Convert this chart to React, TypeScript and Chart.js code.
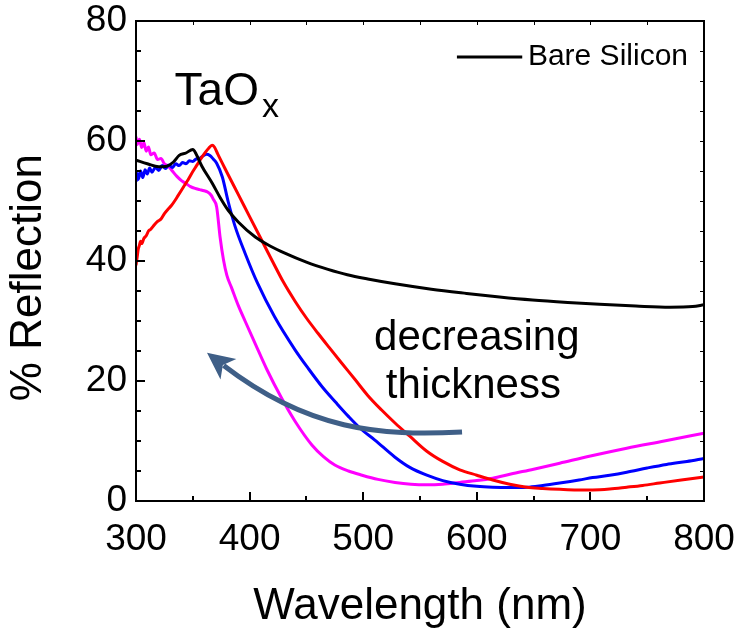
import React, { useEffect, useRef } from "react";
import { Chart, registerables } from "chart.js";

Chart.register(...registerables);

const FONT = '"Liberation Sans", Arial, Helvetica, sans-serif';

// Axis ranges / ticks
const xMin = 300;
const xMax = 800;
const yMin = 0;
const yMax = 80;
const xStep = 100;
const yStep = 20;

// Bare Silicon (black)
const bareWl = [300, 310, 320, 327, 333, 338, 344, 350, 353, 358, 367, 374, 381, 390, 405, 418, 431, 450, 469, 486, 504, 528, 560, 591, 620, 649, 680, 708, 740, 770, 790, 800];
const bareR = [56.8, 56.2, 55.7, 55.8, 56.5, 57.6, 58.0, 58.6, 57.8, 55.8, 53.0, 50.6, 48.5, 46.5, 44.0, 42.5, 41.3, 39.8, 38.6, 37.7, 37.0, 36.2, 35.3, 34.6, 34.0, 33.5, 33.1, 32.8, 32.5, 32.3, 32.4, 32.7];

// Thickest film (red)
const redWl = [300, 301, 302, 303, 304, 305, 307, 309, 311, 313, 316, 319, 322, 325, 328, 331, 334, 337, 340, 343, 346, 349, 352, 355, 358, 361, 364, 367, 369, 372, 380, 390, 400, 410, 420, 430, 440, 450, 460, 470, 481, 493, 504, 516, 528, 541, 556, 570, 585, 600, 614, 629, 644, 658, 673, 688, 702, 717, 732, 746, 761, 780, 800];
const redR = [39.3, 40.6, 42.0, 42.6, 43.3, 42.9, 43.8, 44.2, 45.0, 45.3, 46.0, 46.6, 47.0, 47.9, 48.6, 49.2, 50.0, 50.9, 51.8, 52.7, 53.6, 54.6, 55.5, 56.4, 57.3, 58.1, 58.8, 59.3, 59.0, 57.8, 54.8, 51.1, 47.4, 43.7, 40.0, 36.4, 33.3, 30.5, 28.0, 25.6, 23.0, 20.2, 17.6, 15.2, 13.0, 10.8, 8.3, 6.6, 5.2, 4.3, 3.5, 2.8, 2.3, 2.1, 1.95, 1.85, 1.85, 2.0, 2.3, 2.6, 3.0, 3.5, 4.0];

// Intermediate film (blue)
const blueWl = [300, 301, 302, 304, 306, 308, 310, 312, 314, 317, 320, 323, 326, 329, 332, 335, 338, 341, 344, 347, 350, 353, 356, 359, 362, 365, 368, 371, 376, 381, 387, 396, 407, 422, 440, 452, 464, 476, 487, 498, 510, 528, 541, 556, 570, 585, 600, 614, 630, 644, 658, 673, 690, 702, 717, 732, 750, 767, 785, 800];
const blueR = [53.2, 54.6, 53.6, 55.0, 53.9, 55.2, 54.5, 55.5, 54.8, 55.6, 55.1, 55.9, 55.4, 56.0, 55.6, 56.2, 55.9, 56.4, 56.2, 56.7, 56.6, 57.0, 57.1, 57.5, 57.8, 57.6, 57.0, 56.3, 54.0, 50.0, 45.9, 41.3, 36.3, 30.7, 25.2, 22.0, 19.0, 16.4, 14.1, 12.0, 10.2, 7.3, 5.6, 4.3, 3.4, 2.8, 2.45, 2.3, 2.25, 2.3, 2.6, 3.0, 3.5, 3.9, 4.3, 4.8, 5.5, 6.1, 6.6, 7.1];

// Thinnest film (magenta)
const magWl = [300, 301, 303, 305, 307, 309, 311, 313, 316, 319, 322, 325, 328, 332, 336, 340, 344, 348, 352, 356, 360, 363, 366, 368, 371, 374, 377, 380, 384, 390, 396, 405, 415, 428, 440, 455, 465, 475, 487, 499, 513, 528, 542, 556, 570, 585, 600, 614, 630, 650, 673, 700, 732, 765, 800];
const magR = [60.7, 59.4, 60.3, 58.9, 59.7, 58.3, 59.0, 57.7, 58.0, 56.9, 57.1, 56.2, 55.9, 55.0, 54.1, 53.4, 52.9, 52.4, 52.1, 51.9, 51.7, 51.5, 51.0, 50.3, 49.0, 44.0, 40.2, 37.6, 35.6, 32.6, 30.0, 26.2, 22.0, 17.2, 13.3, 9.3, 7.4, 6.0, 5.0, 4.3, 3.6, 3.1, 2.8, 2.7, 2.8, 3.1, 3.4, 3.8, 4.5, 5.3, 6.3, 7.5, 8.8, 10.0, 11.3];

const seriesLabels = ["Bare Silicon", "TaOx thick", "TaOx medium", "TaOx thin"];
const seriesColors = ["#000000", "#ff0000", "#0000ff", "#ff00ff"];

const legendLabel = "Bare Silicon";
const xTitle = "Wavelength (nm)";
const yTitle = "% Reflection";
const materialMain = "TaO";
const materialSub = "x";
const noteLines = ["decreasing", "thickness"];

const pts = (wl: number[], r: number[]) => wl.map((w, i) => ({ x: w, y: r[i] }));

const decorPlugin = {
  id: "decor",
  afterDatasetsDraw(chart: any) {
    const { ctx, chartArea: a, scales } = chart;
    const xs = scales.x;
    const ys = scales.y;
    const X = (v: number) => xs.getPixelForValue(v);
    const Y = (v: number) => ys.getPixelForValue(v);
    ctx.save();

    // frame
    ctx.strokeStyle = "#000";
    ctx.lineWidth = 2;
    ctx.strokeRect(a.left, a.top, a.right - a.left, a.bottom - a.top);

    // inward ticks bottom / left
    ctx.beginPath();
    for (let v = xMin; v <= xMax; v += 50) {
      const px = Math.round(X(v));
      const major = v % 100 === 0;
      ctx.moveTo(px, a.bottom);
      ctx.lineTo(px, a.bottom - (major ? 9 : 5));
    }
    for (let v = yMin; v <= yMax; v += 5) {
      const py = Math.round(Y(v));
      const major = v % 20 === 0;
      ctx.moveTo(a.left, py);
      ctx.lineTo(a.left + (major ? 9 : 5), py);
    }
    ctx.stroke();
    // small ticks top / right
    ctx.lineWidth = 1;
    ctx.beginPath();
    for (let v = xMin; v <= xMax; v += 50) {
      const px = Math.round(X(v)) + 0.5;
      ctx.moveTo(px, a.top);
      ctx.lineTo(px, a.top + 4);
    }
    for (let v = yMin; v <= yMax; v += 5) {
      const py = Math.round(Y(v)) + 0.5;
      ctx.moveTo(a.right, py);
      ctx.lineTo(a.right - 4, py);
    }
    ctx.stroke();

    // legend
    ctx.strokeStyle = "#000";
    ctx.lineWidth = 3;
    ctx.beginPath();
    ctx.moveTo(X(582.5), Y(74));
    ctx.lineTo(X(640), Y(74));
    ctx.stroke();
    ctx.fillStyle = "#000";
    ctx.font = `30px ${FONT}`;
    ctx.textAlign = "left";
    ctx.textBaseline = "middle";
    ctx.fillText(legendLabel, X(645), Y(74));

    // material label
    ctx.textBaseline = "alphabetic";
    ctx.font = `46px ${FONT}`;
    const mx = X(334);
    ctx.fillText(materialMain, mx, Y(66));
    const mw = ctx.measureText(materialMain).width;
    ctx.font = `34px ${FONT}`;
    ctx.fillText(materialSub, mx + mw + 3, Y(64));

    // note
    ctx.font = `42px ${FONT}`;
    ctx.textAlign = "center";
    ctx.fillText(noteLines[0], X(600), Y(25.2));
    ctx.fillText(noteLines[1], X(597), Y(17.2));

    // arrow (cubic curve + notched head)
    const col = "#3f5f87";
    const p0 = [X(587), Y(11.5)];
    const c1 = [X(514.8), Y(10.8)];
    const c2 = [X(444.4), Y(12.8)];
    const tip = [X(362.5), Y(24.7)];
    let dx = tip[0] - c2[0];
    let dy = tip[1] - c2[1];
    const len = Math.hypot(dx, dy);
    dx /= len;
    dy /= len;
    const headLen = 27;
    const halfW = 13;
    const base = [tip[0] - dx * headLen, tip[1] - dy * headLen];
    const shaftEnd = [tip[0] - dx * (headLen - 6), tip[1] - dy * (headLen - 6)];
    const c2s = [c2[0] + (shaftEnd[0] - tip[0]) * 0.5, c2[1] + (shaftEnd[1] - tip[1]) * 0.5];
    ctx.strokeStyle = col;
    ctx.lineWidth = 5;
    ctx.lineCap = "butt";
    ctx.beginPath();
    ctx.moveTo(p0[0], p0[1]);
    ctx.bezierCurveTo(c1[0], c1[1], c2s[0], c2s[1], shaftEnd[0], shaftEnd[1]);
    ctx.stroke();
    const nx = -dy;
    const ny = dx;
    ctx.fillStyle = col;
    ctx.beginPath();
    ctx.moveTo(tip[0], tip[1]);
    ctx.lineTo(base[0] + nx * halfW, base[1] + ny * halfW);
    ctx.lineTo(tip[0] - dx * (headLen - 7), tip[1] - dy * (headLen - 7));
    ctx.lineTo(base[0] - nx * halfW, base[1] - ny * halfW);
    ctx.closePath();
    ctx.fill();

    ctx.restore();
  },
};

const zeroPad = (s: any) => {
  s.paddingTop = 0;
  s.paddingBottom = 0;
  s.paddingLeft = 0;
  s.paddingRight = 0;
};

export default function App() {
  const ref = useRef<HTMLCanvasElement | null>(null);

  useEffect(() => {
    if (!ref.current) return;
    const allWl = [bareWl, redWl, blueWl, magWl];
    const allR = [bareR, redR, blueR, magR];
    const chart = new Chart(ref.current, {
      type: "line",
      data: {
        datasets: seriesLabels.map((label, i) => ({
          label,
          data: pts(allWl[i], allR[i]),
          borderColor: seriesColors[i],
          backgroundColor: seriesColors[i],
          borderWidth: 3,
          pointRadius: 0,
          fill: false,
          cubicInterpolationMode: "monotone" as const,
        })),
      },
      options: {
        animation: false,
        responsive: false,
        maintainAspectRatio: false,
        layout: { padding: { top: 21, right: 37, left: 0, bottom: 0 } },
        plugins: {
          legend: { display: false },
          tooltip: { enabled: false },
        },
        scales: {
          x: {
            type: "linear",
            min: xMin,
            max: xMax,
            grid: { display: false, drawTicks: false },
            border: { display: false },
            ticks: {
              stepSize: xStep,
              color: "#000",
              padding: 20,
              font: { family: FONT, size: 37, lineHeight: 1 },
              maxRotation: 0,
            },
            title: {
              display: true,
              text: xTitle,
              color: "#000",
              font: { family: FONT, size: 44, lineHeight: 1 },
              padding: { top: 6, bottom: 6 },
            },
            afterFit: (s: any) => {
              s.height = 134;
              zeroPad(s);
            },
          },
          y: {
            type: "linear",
            min: yMin,
            max: yMax,
            grid: { display: false, drawTicks: false },
            border: { display: false },
            ticks: {
              stepSize: yStep,
              color: "#000",
              padding: 9,
              font: { family: FONT, size: 37, lineHeight: 1 },
            },
            title: {
              display: true,
              text: yTitle + "  \u2009",
              color: "#000",
              font: { family: FONT, size: 44, lineHeight: 1 },
              padding: { top: 7, bottom: 7 },
            },
            afterFit: (s: any) => {
              s.width = 136;
              zeroPad(s);
            },
          },
        },
      },
      plugins: [decorPlugin],
    });
    return () => chart.destroy();
  }, []);

  return (
    <div style={{ position: "fixed", left: 0, top: 0, width: 741, height: 635, background: "#fff" }}>
      <canvas ref={ref} width={741} height={635} style={{ width: 741, height: 635, display: "block" }} />
    </div>
  );
}
